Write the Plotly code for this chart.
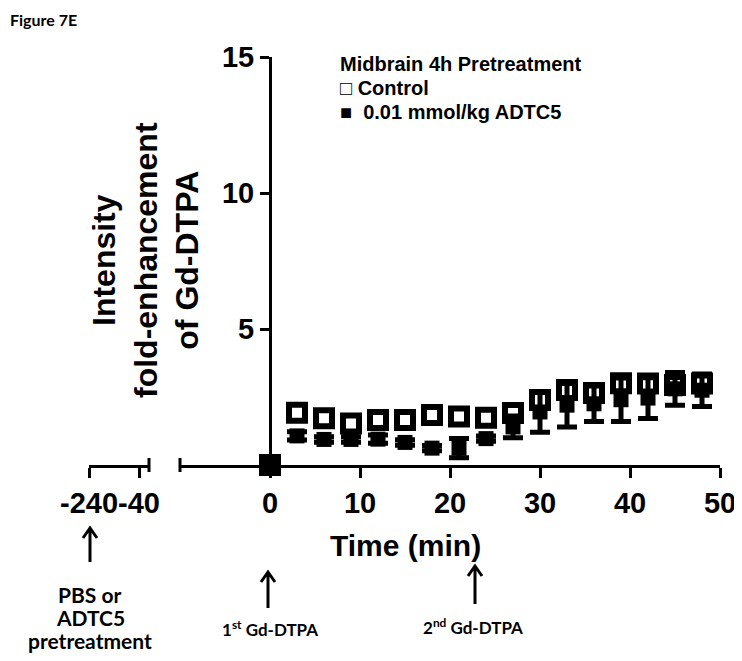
import plotly.graph_objects as go

# page body adds an 8px margin, so the figure is drawn 8px in from the window corner
OFF = 8
W, H = 742 - OFF, 661 - OFF

# ---------------- data ----------------
time_min = [0, 3, 6, 9, 12, 15, 18, 21, 24, 27, 30, 33, 36, 39, 42, 45, 48]
control = [0, 1.92, 1.72, 1.53, 1.65, 1.65, 1.84, 1.78, 1.74, 1.91, 2.39, 2.76, 2.65, 3.01, 3.00, 2.94, 3.00]
control_err = [0, 0.2, 0.15, 0.15, 0.15, 0.15, 0.15, 0.15, 0.15, 0.2, 0.2, 0.2, 0.2, 0.2, 0.2, 0.2, 0.2]
adtc5 = [0, 1.07, 0.94, 0.94, 0.95, 0.83, 0.62, 0.62, 0.97, 1.40, 1.95, 2.20, 2.25, 2.40, 2.46, 2.80, 2.75]
adtc5_err = [0, 0.15, 0.10, 0.10, 0.15, 0.10, 0.10, 0.35, 0.10, 0.40, 0.75, 0.80, 0.65, 0.80, 0.75, 0.60, 0.60]

x_ticks = [0, 10, 20, 30, 40, 50]
y_ticks = [5, 10, 15]
pre_ticks = [-240, -40]
pre_ticktext = ["-240", "-40"]

ARIAL = "Arial, Liberation Sans, sans-serif"
CAL = "Lato, Carlito, Calibri, sans-serif"


def px(x):
    """window pixel x -> paper fraction"""
    return (x - OFF) / W


def py(y):
    """window pixel y (from top) -> paper fraction"""
    return 1 - (y - OFF) / H


x_dom = [px(180), px(720)]
x_rng = [-10, 50]
x2_dom = [px(89), px(149)]
x2_rng = [-240, 0]
y_dom = [py(465), py(57)]
y_rng = [0, 15]

fig = go.Figure()

fig.add_trace(go.Scatter(
    x=time_min, y=control, mode="markers", name="Control",
    marker=dict(symbol="square", size=16, color="white", line=dict(color="black", width=6)),
    error_y=dict(type="data", array=control_err, color="black", thickness=4, width=9),
    cliponaxis=False, showlegend=False,
))
fig.add_trace(go.Scatter(
    x=time_min, y=adtc5, mode="markers", name="0.01 mmol/kg ADTC5",
    marker=dict(symbol="square", size=15, color="black", line=dict(width=0)),
    error_y=dict(type="data", array=adtc5_err, color="black", thickness=5, width=10),
    cliponaxis=False, showlegend=False,
))
# dummy trace so the pre-treatment axis segment is drawn
fig.add_trace(go.Scatter(x=[None], y=[None], xaxis="x2", yaxis="y", showlegend=False, hoverinfo="skip"))

tickfont = dict(family=ARIAL, size=29, color="black", weight="bold")
axis_common = dict(showline=True, linecolor="black", linewidth=3, ticks="outside",
                   tickwidth=3, tickcolor="black", showgrid=False, zeroline=False,
                   automargin=False, tickfont=tickfont, ticklabeloverflow="allow")

fig.update_layout(
    width=W, height=H,
    margin=dict(l=0, r=0, t=0, b=0, pad=0, autoexpand=False),
    showlegend=False,
    paper_bgcolor="white", plot_bgcolor="rgba(0,0,0,0)",
    xaxis=dict(domain=x_dom, range=x_rng, anchor="y", tickvals=x_ticks, ticklen=10,
               tickangle=0, **axis_common),
    xaxis2=dict(domain=x2_dom, range=x2_rng, anchor="y", tickvals=pre_ticks, ticktext=pre_ticktext,
                ticklen=10, tickangle=0, **axis_common),
    yaxis=dict(domain=y_dom, range=y_rng, anchor="free", position=px(270), tickvals=y_ticks,
               ticklen=9, **axis_common),
)

# axis-break bars
half = 7 / H
for xb in (x2_dom[1], x_dom[0]):
    fig.add_shape(type="line", xref="paper", yref="paper", x0=xb, x1=xb,
                  y0=y_dom[0] - half, y1=y_dom[0] + half, line=dict(color="black", width=3))

# up arrows (stem + open head)
for ax_x, tip, tail in ((90, 528, 562), (268, 572, 608), (475, 566, 604)):
    path = (f"M {px(ax_x)},{py(tail)} L {px(ax_x)},{py(tip)} "
            f"M {px(ax_x - 7)},{py(tip + 10)} L {px(ax_x)},{py(tip)} L {px(ax_x + 7)},{py(tip + 10)}")
    fig.add_shape(type="path", xref="paper", yref="paper", path=path,
                  line=dict(color="black", width=3))

ann = []
ann.append(dict(text="<b>Figure 7E</b>", x=px(9), y=py(9), xanchor="left", yanchor="top", borderpad=0,
                font=dict(family=CAL, size=16, color="black")))
ann.append(dict(text="<b>Intensity<br>fold-enhancement<br>of Gd-DTPA</b>", x=px(146), y=py(260),
                textangle=-90, xanchor="center", yanchor="middle",
                font=dict(family=ARIAL, size=32, color="black")))
ann.append(dict(text="<b>Time (min)</b>", x=px(405), y=py(545), xanchor="center", yanchor="middle",
                font=dict(family=ARIAL, size=30, color="black")))
ann.append(dict(text="<b>Midbrain 4h Pretreatment</b>", x=px(338), y=py(64), xanchor="left", yanchor="middle",
                font=dict(family=ARIAL, size=20, color="black")))
ann.append(dict(text="<b>□ Control</b>", x=px(338), y=py(88), xanchor="left", yanchor="middle",
                font=dict(family=ARIAL, size=20, color="black")))
ann.append(dict(text="<b>■  0.01 mmol/kg ADTC5</b>", x=px(338), y=py(112), xanchor="left", yanchor="middle",
                font=dict(family=ARIAL, size=20, color="black")))
for line_text, ly in (("PBS or", 594), ("ADTC5", 617), ("pretreatment", 640)):
    ann.append(dict(text=f"<b>{line_text}</b>", x=px(90), y=py(ly), xanchor="center",
                    yanchor="middle", font=dict(family=CAL, size=21, color="black")))
ann.append(dict(text="<b>1<sup>st</sup> Gd-DTPA</b>", x=px(270), y=py(628), xanchor="center",
                yanchor="middle", font=dict(family=CAL, size=17, color="black")))
ann.append(dict(text="<b>2<sup>nd</sup> Gd-DTPA</b>", x=px(473), y=py(626), xanchor="center",
                yanchor="middle", font=dict(family=CAL, size=17, color="black")))
for a in ann:
    a.update(xref="paper", yref="paper", showarrow=False)

fig.update_layout(annotations=ann)
fig.write_html("out.html")
